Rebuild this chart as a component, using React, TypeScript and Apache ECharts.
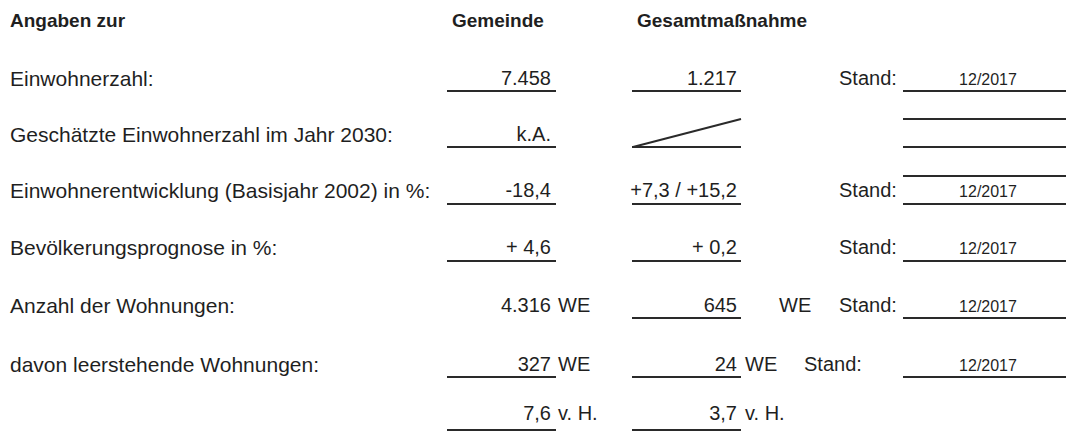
import React, { useEffect, useRef } from "react";
import * as echarts from "echarts";

// ---- data ----
const headers = ["Angaben zur", "Gemeinde", "Gesamtmaßnahme"];
const rowLabels = [
  "Einwohnerzahl:",
  "Geschätzte Einwohnerzahl im Jahr 2030:",
  "Einwohnerentwicklung (Basisjahr 2002) in %:",
  "Bevölkerungsprognose in %:",
  "Anzahl der Wohnungen:",
  "davon leerstehende Wohnungen:",
  "",
];
const gemeindeValues = ["7.458", "k.A.", "-18,4", "+ 4,6", "4.316", "327", "7,6"];
const gemeindeUnits = ["", "", "", "", "WE", "WE", "v. H."];
const gesamtValues = ["1.217", "", "+7,3 / +15,2", "+ 0,2", "645", "24", "3,7"];
const gesamtUnits = ["", "", "", "", "WE", "WE", "v. H."];
const standLabel = "Stand:";
const standDates = ["12/2017", "", "12/2017", "12/2017", "12/2017", "12/2017", ""];

// ---- layout (positions only) ----
const W = 1066;
const H = 432;
const rowText = [78, 134, 190, 247, 305, 364, 413];
const rowLine = [91, 147, 204, 261, 318, 377, 430];
const gemUnderline = [true, true, true, true, false, true, true];
const gesUnitX = [0, 0, 0, 0, 779, 745, 745];
const standX = [839, 0, 839, 839, 839, 804, 0];
const standLines = [[91], [119, 147], [176, 204], [261], [318], [377], []];

const FONT = "Liberation Sans, Arial, Helvetica, sans-serif";
const TXT = "#1f1f1f";
const LINE = "#2a2a2a";

function txt(text: string, x: number, y: number, size: number, align = "left", bold = false) {
  return {
    type: "text",
    x,
    y,
    silent: true,
    style: {
      text,
      font: `${bold ? "bold " : ""}${size}px ${FONT}`,
      fill: TXT,
      align,
      textAlign: align,
      verticalAlign: "middle",
      textVerticalAlign: "middle",
    },
  };
}
function ln(x1: number, y1: number, x2: number, y2: number) {
  return {
    type: "line",
    silent: true,
    shape: { x1, y1, x2, y2 },
    style: { stroke: LINE, lineWidth: 2 },
  };
}

export default function App() {
  const ref = useRef<HTMLDivElement>(null);
  useEffect(() => {
    if (!ref.current) return;
    const chart = echarts.init(ref.current, undefined, { renderer: "svg" });
    const els: any[] = [];
    els.push(txt(headers[0], 10, 20, 19, "left", true));
    els.push(txt(headers[1], 452, 20, 19, "left", true));
    els.push(txt(headers[2], 637, 20, 19, "left", true));
    rowLabels.forEach((lab, i) => {
      const ty = rowText[i];
      const ly = rowLine[i];
      if (lab) els.push(txt(lab, 10, ty, 21));
      // Gemeinde
      if (gemeindeValues[i]) els.push(txt(gemeindeValues[i], 551, ty, 20, "right"));
      if (gemeindeUnits[i]) els.push(txt(gemeindeUnits[i], 558, ty, 20));
      if (gemUnderline[i]) els.push(ln(447, ly, 556, ly));
      // Gesamtmaßnahme
      if (gesamtValues[i]) els.push(txt(gesamtValues[i], 737, ty, 20, "right"));
      if (gesamtUnits[i]) els.push(txt(gesamtUnits[i], gesUnitX[i], ty, 20));
      els.push(ln(632, ly, 741, ly));
      if (i === 1) els.push(ln(633, ly, 741, 119));
      // Stand
      if (standX[i]) els.push(txt(standLabel, standX[i], ty, 20));
      standLines[i].forEach((y) => els.push(ln(903, y, 1066, y)));
      if (standDates[i]) els.push(txt(standDates[i], 988, ty + 1, 16, "center"));
    });
    chart.setOption({ animation: false, graphic: { elements: els } });
    return () => chart.dispose();
  }, []);
  return (
    <div
      ref={ref}
      style={{ position: "fixed", left: 0, top: 0, width: W, height: H, background: "#ffffff" }}
    />
  );
}
